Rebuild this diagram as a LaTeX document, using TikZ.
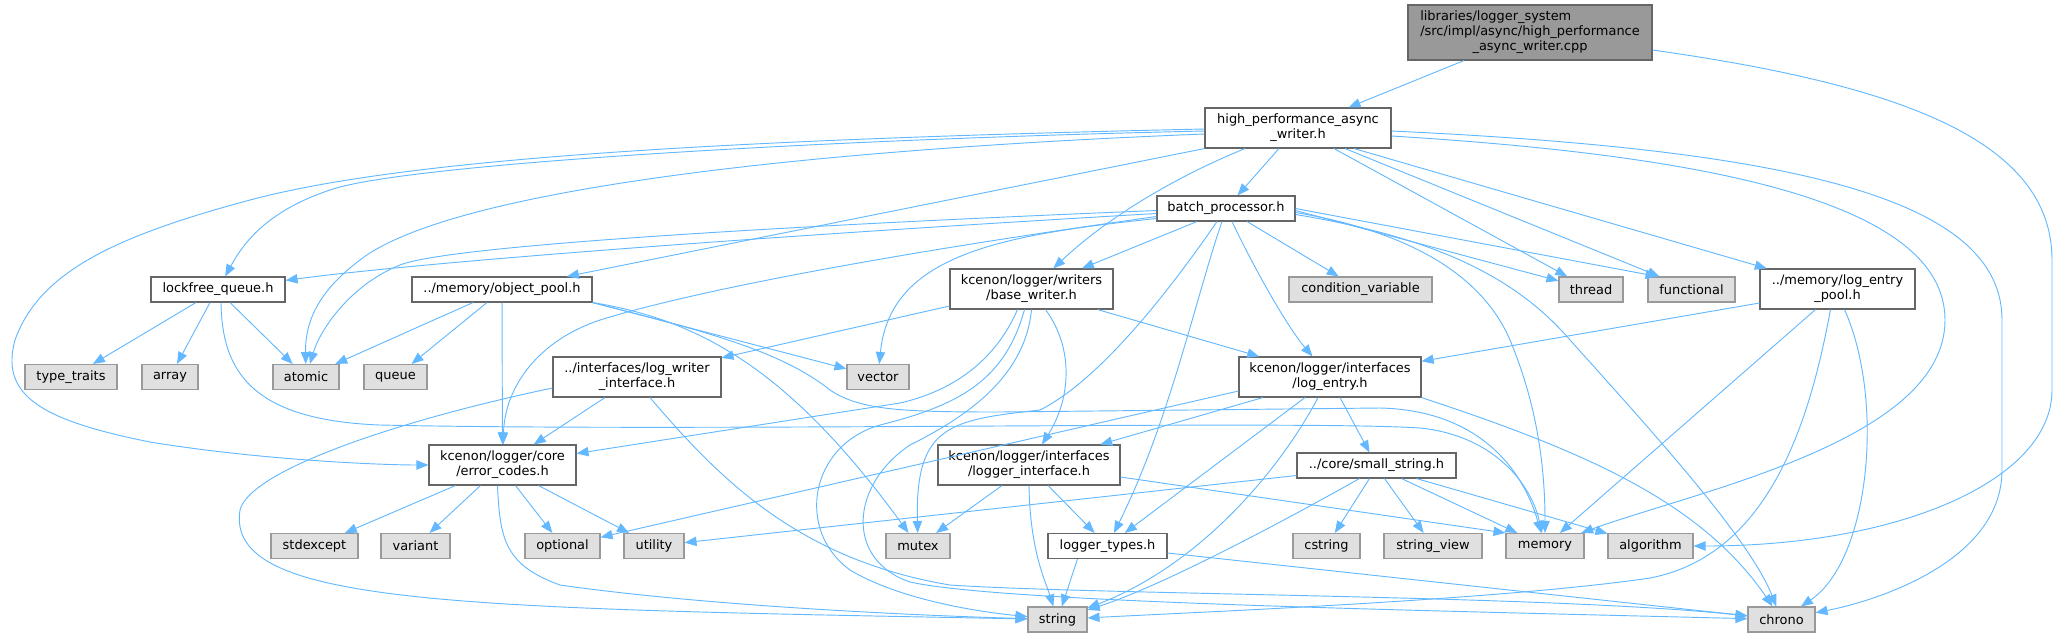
\documentclass[tikz,border=0pt]{standalone}
\usepackage{fontspec}
\setmainfont{DejaVu Sans}
\usetikzlibrary{arrows.meta}
\definecolor{depblue}{RGB}{99,184,255}
\definecolor{hdrline}{RGB}{102,102,102}
\definecolor{sysline}{RGB}{153,153,153}
\definecolor{sysfill}{RGB}{224,224,224}
\definecolor{srcfill}{RGB}{153,153,153}

\begin{document}
\begin{tikzpicture}[
    x=0.75pt, y=-0.75pt,
    font=\fontsize{9.7}{11.3}\selectfont,
    hdr/.style={draw=hdrline, fill=white, line width=0.8pt, inner sep=0pt, align=center, minimum height=18.75pt},
    hdrtwo/.style={hdr, minimum height=30pt},
    sys/.style={hdr, draw=sysline, fill=sysfill},
    src/.style={hdr, fill=srcfill, minimum height=41.25pt},
    dep/.style={draw=depblue, line width=0.7pt, -{Triangle[length=9pt,width=7pt]}},
]
    \useasboundingbox (0,0) rectangle (2057,637);
    \node[src, minimum width=183pt] (asyncwriter) at (1530,32.5) {\begin{tabular}{@{}l@{}}libraries/logger\_system\\/src/impl/async/high\_performance\\\multicolumn{1}{@{}c@{}}{\_async\_writer.cpp}\end{tabular}};
    \node[hdrtwo, minimum width=139.5pt] (hpaw) at (1298,128) {high\_performance\_async\\\_writer.h};
    \node[hdr, minimum width=103.5pt] (batchproc) at (1226,208.5) {batch\_processor.h};
    \node[hdr, minimum width=100.5pt] (lockfree) at (218,289.5) {lockfree\_queue.h};
    \node[hdr, minimum width=135pt] (objpool) at (502,289.5) {../memory/object\_pool.h};
    \node[hdrtwo, minimum width=122.25pt] (basewriter) at (1031.5,289) {kcenon/logger/writers\\/base\_writer.h};
    \node[sys, minimum width=107.25pt] (condvar) at (1360.5,289.5) {condition\_variable};
    \node[sys, minimum width=48pt] (thread) at (1591,289.5) {thread};
    \node[sys, minimum width=65.25pt] (functional) at (1691.5,289.5) {functional};
    \node[hdrtwo, minimum width=116.25pt] (entrypool) at (1837.5,289) {../memory/log\_entry\\\_pool.h};
    \node[sys, minimum width=69pt] (typetraits) at (71,377) {type\_traits};
    \node[sys, minimum width=42pt] (array) at (170,377) {array};
    \node[sys, minimum width=49.5pt] (atomic) at (306,377) {atomic};
    \node[sys, minimum width=47.25pt] (queue) at (395.5,377) {queue};
    \node[hdrtwo, minimum width=126pt] (writeriface) at (637,377) {../interfaces/log\_writer\\\_interface.h};
    \node[sys, minimum width=46.5pt] (vector) at (878,377) {vector};
    \node[hdrtwo, minimum width=136.5pt] (logentry) at (1330,377) {kcenon/logger/interfaces\\/log\_entry.h};
    \node[hdrtwo, minimum width=110.25pt] (errorcodes) at (502.5,465) {kcenon/logger/core\\/error\_codes.h};
    \node[hdrtwo, minimum width=136.5pt] (loggeriface) at (1029,465) {kcenon/logger/interfaces\\/logger\_interface.h};
    \node[hdr, minimum width=119.25pt] (smallstring) at (1376.5,465.5) {../core/small\_string.h};
    \node[sys, minimum width=65.25pt] (stdexcept) at (314.5,546) {stdexcept};
    \node[sys, minimum width=51.75pt] (variant) at (415.5,546) {variant};
    \node[sys, minimum width=56.25pt] (optional) at (562.5,546) {optional};
    \node[sys, minimum width=45pt] (utility) at (654,546) {utility};
    \node[sys, minimum width=48pt] (mutex) at (918,546) {mutex};
    \node[hdr, minimum width=89.25pt] (loggertypes) at (1107.5,546) {logger\_types.h};
    \node[sys, minimum width=50.25pt] (cstring) at (1326.5,546) {cstring};
    \node[sys, minimum width=73.5pt] (stringview) at (1433,546) {string\_view};
    \node[sys, minimum width=58.5pt] (memory) at (1545,546) {memory};
    \node[sys, minimum width=63.75pt] (algorithm) at (1650.5,546) {algorithm};
    \node[sys, minimum width=44.25pt] (string) at (1057.5,619.5) {string};
    \node[sys, minimum width=50.25pt] (chrono) at (1781.5,619.5) {chrono};

    \draw[dep] (asyncwriter.south) ++(-66,0) -- (hpaw);
    \draw[dep] (asyncwriter.east) ++(0,17.5) .. controls (1900,85) and (2052,140) .. (2052,260) -- (2052,390) .. controls (2052,480) and (1900,546) .. (algorithm);

    \draw[dep] (hpaw.south) ++(-19,0) -- (batchproc);
    \draw[dep] (hpaw.west) ++(0,3) .. controls (800,140) and (400,165) .. (330,190) .. controls (270,210) and (245,240) .. (lockfree);
    \draw[dep] (hpaw.west) ++(0,1) .. controls (700,140) and (400,160) .. (250,200) .. controls (120,235) and (40,270) .. (15,340) .. controls (0,395) and (40,420) .. (150,442) .. controls (260,460) and (380,465) .. (errorcodes);
    \draw[dep] (hpaw.west) ++(0,6) .. controls (800,150) and (450,190) .. (360,260) .. controls (320,290) and (305,320) .. (atomic);
    \draw[dep] (hpaw.south west) -- (objpool);
    \draw[dep] (hpaw.south) ++(-53,0) .. controls (1180,175) and (1110,215) .. (basewriter);
    \draw[dep] (hpaw.south) ++(36,0) -- (thread);
    \draw[dep] (hpaw.south) ++(47,0) -- (functional);
    \draw[dep] (hpaw.south) ++(56,0) -- (entrypool);
    \draw[dep] (hpaw.east) ++(0,8) .. controls (1700,155) and (1945,200) .. (1945,320) .. controls (1945,440) and (1700,490) .. (memory);
    \draw[dep] (hpaw.east) ++(0,3) .. controls (1800,150) and (2002,200) .. (2002,320) -- (2002,470) .. controls (2002,560) and (1880,600) .. (chrono);

    \draw[dep] (batchproc.west) ++(0,5) .. controls (700,240) and (400,265) .. (lockfree);
    \draw[dep] (batchproc.west) ++(0,2) .. controls (800,225) and (450,245) .. (400,265) .. controls (350,285) and (320,330) .. (atomic);
    \draw[dep] (batchproc.west) ++(0,8) .. controls (880,255) and (690,292) .. (600,320) .. controls (540,340) and (505,385) .. (errorcodes);
    \draw[dep] (batchproc.south) ++(-29,0) -- (basewriter);
    \draw[dep] (batchproc.west) ++(0,10) .. controls (1000,235) and (890,255) .. (vector);
    \draw[dep] (batchproc.south) ++(-9,0) .. controls (1170,290) and (1100,380) .. (1040,410) .. controls (950,420) and (915,425) .. (mutex);
    \draw[dep] (batchproc.south) ++(-4,0) .. controls (1195,300) and (1170,420) .. (loggertypes);
    \draw[dep] (batchproc.south) ++(6,0) .. controls (1260,280) and (1290,330) .. (logentry);
    \draw[dep] (batchproc.south) ++(21,0) -- (condvar);
    \draw[dep] (batchproc.east) ++(0,2) -- (thread);
    \draw[dep] (batchproc.east) -- (functional.159);
    \draw[dep] (batchproc.east) ++(0,4) .. controls (1400,230) and (1480,270) .. (1510,340) .. controls (1535,400) and (1545,460) .. (memory);
    \draw[dep] (batchproc.east) ++(0,6) .. controls (1420,235) and (1510,270) .. (1570,340) .. controls (1660,440) and (1750,540) .. (chrono);

    \draw[dep] (basewriter.west) ++(0,17) -- (writeriface);
    \draw[dep] (basewriter.south) ++(-14,0) .. controls (1000,350) and (965,388) .. (900,403) -- (errorcodes);
    \draw[dep] (basewriter.south) ++(-7,0) .. controls (1005,380) and (960,405) .. (880,425) .. controls (810,445) and (795,530) .. (850,570) .. controls (900,600) and (980,612) .. (string);
    \draw[dep] (basewriter.south) .. controls (1025,380) and (960,420) .. (910,445) .. controls (850,485) and (845,560) .. (910,582) .. controls (1000,602) and (1400,610) .. (chrono);
    \draw[dep] (basewriter.south) ++(14,0) .. controls (1075,350) and (1070,400) .. (loggeriface);
    \draw[dep] (basewriter.south east) ++(-16,0) -- (logentry);

    \draw[dep] (lockfree.south) ++(-22,0) -- (typetraits);
    \draw[dep] (lockfree.south) ++(-8,0) -- (array);
    \draw[dep] (lockfree.south) ++(12,0) -- (atomic);
    \draw[dep] (lockfree.south) ++(3,0) .. controls (222,370) and (250,420) .. (380,425) .. controls (700,432) and (1300,420) .. (1420,428) .. controls (1490,435) and (1530,480) .. (memory);

    \draw[dep] (objpool.south) ++(-29,0) -- (atomic);
    \draw[dep] (objpool.south) ++(-15,0) -- (queue);
    \draw[dep] (objpool) -- (errorcodes);
    \draw[dep] (objpool.south east) -- (vector);
    \draw[dep] (objpool.south east) .. controls (700,320) and (790,370) .. (mutex);
    \draw[dep] (objpool.south east) .. controls (700,330) and (780,350) .. (830,390) .. controls (860,410) and (900,412) .. (1000,412) -- (1380,408) .. controls (1470,410) and (1520,460) .. (memory);

    \draw[dep] (entrypool.west) ++(0,14) -- (logentry);
    \draw[dep] (entrypool.south) ++(-22,0) -- (memory);
    \draw[dep] (entrypool.south) ++(-7,0) .. controls (1810,420) and (1770,555) .. (1650,578) .. controls (1500,600) and (1200,612) .. (string);
    \draw[dep] (entrypool.south) ++(7,0) .. controls (1885,400) and (1870,560) .. (chrono);

    \draw[dep] (writeriface.south) ++(-32,0) -- (errorcodes);
    \draw[dep] (writeriface.west) ++(0,11) .. controls (400,420) and (250,470) .. (240,510) .. controls (225,605) and (450,608) .. (string);
    \draw[dep] (writeriface.south) ++(13,0) .. controls (720,480) and (800,560) .. (950,585) .. controls (1100,595) and (1550,595) .. (chrono);

    \draw[dep] (logentry.south) ++(10,0) -- (smallstring);
    \draw[dep] (logentry.south) ++(-25,0) -- (loggertypes);
    \draw[dep] (logentry.south) ++(-12,0) .. controls (1280,470) and (1200,565) .. (string);
    \draw[dep] (logentry.south) ++(-67,0) -- (loggeriface);
    \draw[dep] (logentry.west) ++(0,14) -- (optional);
    \draw[dep] (logentry.south east) .. controls (1580,450) and (1700,500) .. (chrono);

    \draw[dep] (errorcodes.south) ++(-47,0) -- (stdexcept);
    \draw[dep] (errorcodes.south) ++(-22,0) -- (variant);
    \draw[dep] (errorcodes.south) ++(13,0) -- (optional);
    \draw[dep] (errorcodes.south) ++(36,0) -- (utility);
    \draw[dep] (errorcodes.south) ++(-5,0) .. controls (500,540) and (505,565) .. (560,585) .. controls (700,605) and (900,615) .. (string);

    \draw[dep] (loggeriface.south) ++(-27,0) -- (mutex);
    \draw[dep] (loggeriface.south) .. controls (1030,550) and (1045,580) .. (string);
    \draw[dep] (loggeriface.south) ++(19,0) -- (loggertypes);
    \draw[dep] (loggeriface.east) ++(0,12) -- (memory.north west);

    \draw[dep] (smallstring.west) ++(0,10) -- (utility);
    \draw[dep] (smallstring.south) ++(-17,0) .. controls (1250,540) and (1150,590) .. (string);
    \draw[dep] (smallstring.south) ++(-7,0) -- (cstring);
    \draw[dep] (smallstring.south) ++(8,0) -- (stringview);
    \draw[dep] (smallstring.south) ++(25,0) -- (memory);
    \draw[dep] (smallstring.south) ++(40,0) -- (algorithm);

    \draw[dep] (loggertypes.south) ++(-30,0) -- (string);
    \draw[dep] (loggertypes.east) ++(0,7) -- (chrono);
\end{tikzpicture}
\end{document}
